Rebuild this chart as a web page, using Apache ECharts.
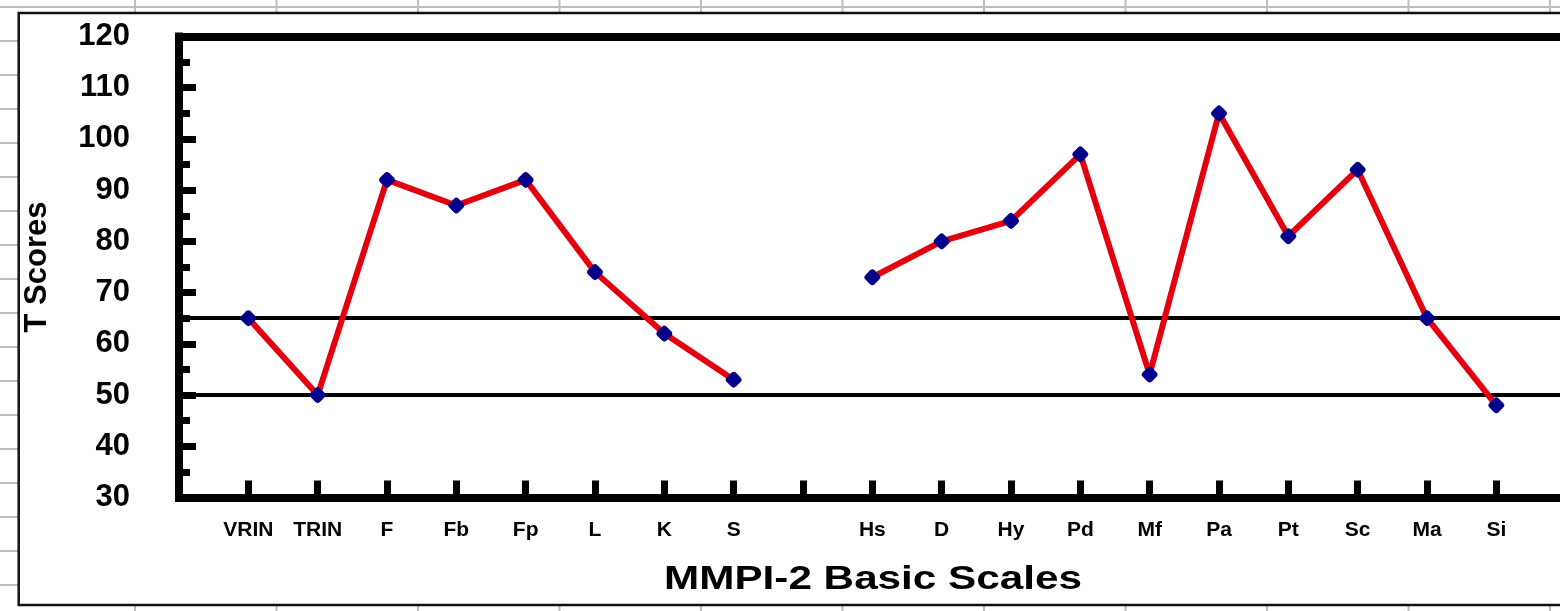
<!DOCTYPE html>
<html><head><meta charset="utf-8">
<script src="https://cdn.jsdelivr.net/npm/echarts@6/dist/echarts.min.js"></script>
<style>html,body{margin:0;padding:0;background:#fff;overflow:hidden}#c{width:1560px;height:611px}</style>
</head><body><div id="c"></div>
<script>
// ---- data ----
const categories = ['', 'VRIN', 'TRIN', 'F', 'Fb', 'Fp', 'L', 'K', 'S', '', 'Hs', 'D', 'Hy', 'Pd', 'Mf', 'Pa', 'Pt', 'Sc', 'Ma', 'Si', ''];
const tScores = [null, 65, 50, 92, 87, 92, 74, 62, 53, null, 73, 80, 84, 97, 54, 105, 81, 94, 65, 48, null];
const referenceLines = [65, 50];
const yMin = 30, yMax = 120, yStep = 10;
const xTitle = 'MMPI-2 Basic Scales';
const yTitle = 'T Scores';

// ---- decoration (spreadsheet background) ----
const FONT = '"Liberation Sans", Arial, Helvetica, sans-serif';
const bg = [];
for (let x = 135; x < 1560; x += 141.5) {
  bg.push({type: 'line', z: 0, shape: {x1: x, y1: 0, x2: x, y2: 611}, style: {stroke: '#bdbdbd', lineWidth: 2}});
}
for (let y = 7; y < 611; y += 34) {
  bg.push({type: 'line', z: 0, shape: {x1: 0, y1: y, x2: 1560, y2: y}, style: {stroke: '#bdbdbd', lineWidth: 2}});
}
bg.push({type: 'rect', z: 1, shape: {x: 18.7, y: 13, width: 1600, height: 592}, style: {fill: '#fff', stroke: '#111', lineWidth: 2.5}});
bg.push({type: 'text', z: 30, x: 873, y: 580, scaleX: 1.28,
  style: {text: xTitle, fill: '#000', fontSize: 33, fontWeight: 'bold', fontFamily: FONT, align: 'center', verticalAlign: 'middle'}});

const chart = echarts.init(document.getElementById('c'), null, {renderer: 'canvas'});
chart.setOption({
  animation: false,
  backgroundColor: 'transparent',
  graphic: {elements: bg},
  grid: {left: 179, top: 36.5, width: 1386.67, height: 461, containLabel: false, outerBoundsMode: 'none'},
  xAxis: [{
    type: 'category', data: categories, boundaryGap: false, z: 10,
    axisLine: {show: true, lineStyle: {color: '#000', width: 8, cap: 'square'}},
    axisTick: {show: true, inside: true, length: 17, interval: 0, lineStyle: {color: '#000', width: 7}},
    axisLabel: {interval: 0, margin: 22, color: '#000', fontSize: 21, fontWeight: 'bold', fontFamily: FONT},
    splitLine: {show: false}
  }, {
    type: 'category', data: categories, boundaryGap: false, position: 'top', z: 10,
    axisLine: {show: true, lineStyle: {color: '#000', width: 8, cap: 'square'}},
    axisTick: {show: false}, axisLabel: {show: false}, splitLine: {show: false}
  }],
  yAxis: {
    type: 'value', min: yMin, max: yMax, interval: yStep, z: 10,
    name: yTitle, nameLocation: 'middle', nameRotate: 90, nameGap: 126,
    nameTextStyle: {color: '#000', fontSize: 31, fontWeight: 'bold', fontFamily: FONT},
    axisLine: {show: true, lineStyle: {color: '#000', width: 8, cap: 'square'}},
    axisTick: {show: true, inside: true, length: 17, lineStyle: {color: '#000', width: 7}},
    minorTick: {show: true, splitNumber: 2, length: 11, lineStyle: {color: '#000', width: 7}},
    axisLabel: {margin: 49, color: '#000', fontSize: 31, fontWeight: 'bold', fontFamily: FONT},
    splitLine: {show: false}
  },
  series: [{
    type: 'line', z: 20, data: tScores, connectNulls: false,
    lineStyle: {color: '#E3000F', width: 6},
    symbol: 'roundRect', symbolSize: 13, symbolRotate: 45,
    itemStyle: {color: '#00008B'},
    markLine: {
      silent: true, symbol: ['none', 'none'], label: {show: false},
      lineStyle: {color: '#000', width: 4, type: 'solid'},
      data: referenceLines.map(v => ({yAxis: v}))
    }
  }]
});
</script></body></html>
